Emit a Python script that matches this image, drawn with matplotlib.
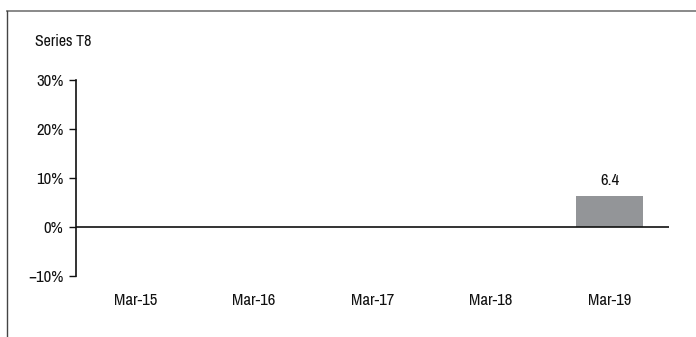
import matplotlib.pyplot as plt
from matplotlib import font_manager
from matplotlib.lines import Line2D

categories = ["Mar-15", "Mar-16", "Mar-17", "Mar-18", "Mar-19"]
values = [0, 0, 0, 0, 6.4]
labels = [None, None, None, None, "6.4"]
yticks = [-10, 0, 10, 20, 30]
ytick_labels = ["\u221210%", "0%", "10%", "20%", "30%"]
series_name = "Series T8"

# look for a narrow face, else fall back
narrow = None
for f in font_manager.fontManager.ttflist:
    if ("Narrow" in f.name or "Condensed" in f.name) and f.weight in (400, "normal", "regular"):
        narrow = f.name
        break
if narrow is None:
    for f in font_manager.fontManager.ttflist:
        if "Condensed" in f.fname or "Narrow" in f.fname:
            narrow = f.name
            break
fams = ([narrow] if narrow else []) + ['DejaVu Sans']
plt.rcParams['font.family'] = fams
plt.rcParams['font.size'] = 9

fig = plt.figure(figsize=(6.96, 3.37), dpi=100)
ax = fig.add_axes([76/696, 1-276/337, (669-76)/696, (276-80)/337])

x = list(range(len(categories)))
bars = ax.bar(x, values, width=0.56, color="#939598", zorder=2)
for b, lab in zip(bars, labels):
    if lab:
        ax.text(b.get_x()+b.get_width()/2, b.get_height()+1.6, lab,
                ha="center", va="bottom", fontsize=12, color="#111111")

ax.axhline(0, color="#111111", lw=1.2, zorder=3)
ax.set_xlim(-0.5, 4.5)
ax.set_ylim(-10, 30)
ax.set_yticks(yticks)
ax.set_yticklabels(ytick_labels, fontsize=12, color="#111111")
ax.set_xticks(x)
ax.set_xticklabels(categories, fontsize=12, color="#111111")
ax.tick_params(axis="x", length=0, pad=12)
ax.tick_params(axis="y", length=5, width=1, direction="out", pad=4, color="#111111")
for s in ["top", "right", "bottom"]:
    ax.spines[s].set_visible(False)
ax.spines["left"].set_color("#111111")
ax.spines["left"].set_linewidth(1.2)

fig.text(35/696, 1-42/337, series_name, fontsize=11.5, va="center", ha="left", color="#111111")

# outer frame (top and left edges)
fig.add_artist(Line2D([7/696, 1], [1-10.5/337, 1-10.5/337], color="#808080", lw=1.3, transform=fig.transFigure))
fig.add_artist(Line2D([7/696, 7/696], [0, 1-10.5/337], color="#444444", lw=1.0, transform=fig.transFigure))

fig.savefig("out.png", dpi=100)
